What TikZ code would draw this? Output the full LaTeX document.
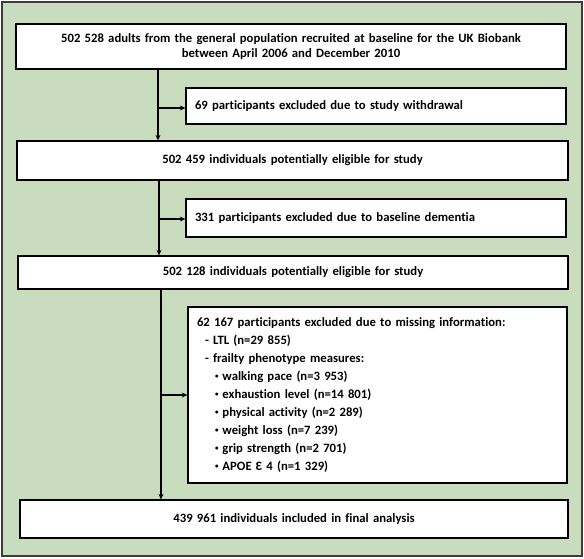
\documentclass[tikz,border=0pt]{standalone}
\usepackage{fontspec}
\setmainfont{Carlito}[Ligatures={NoCommon,TeX}]
\usetikzlibrary{arrows.meta}
\definecolor{bggreen}{RGB}{201,220,190}
\definecolor{framegray}{RGB}{60,60,60}
\newcommand{\mybul}{\hspace*{18pt}\raisebox{0.25ex}{\scriptsize\textbullet}\hspace{4pt}}
\begin{document}
\begin{tikzpicture}[x=1pt,y=-1pt,
  boxstyle/.style={draw=black, line width=1.3pt, fill=white, inner sep=0pt, font=\bfseries\fontsize{12.7}{15.5}\selectfont},
  cbox/.style={boxstyle, align=center},
  lbox/.style={boxstyle, align=left},
  arr/.style={line width=1.4pt, -{Stealth[length=5.5pt,width=5pt]}}]
\useasboundingbox (0,0) rectangle (584,558);
\draw[framegray, fill=bggreen, line width=1.5pt] (2,2) rectangle (582,556);
% main boxes
\node[cbox, minimum width=550pt, minimum height=45pt, text width=540pt] (b1) at (291,46.5)
  {502 528 adults from the general population recruited at baseline for the UK Biobank\\between April 2006 and December 2010};
\node[cbox, minimum width=551pt, minimum height=39pt, text width=540pt] (b2) at (292.5,160.5)
  {502 459 individuals potentially eligible for study};
\node[cbox, minimum width=550pt, minimum height=33pt, text width=540pt] (b3) at (293,272.5)
  {502 128 individuals potentially eligible for study};
\node[cbox, minimum width=548pt, minimum height=38pt, text width=540pt] (b5) at (294,519)
  {439 961 individuals included in final analysis};
% exclusion boxes
\node[lbox, minimum width=380pt, minimum height=36pt, text width=362pt] (e1) at (376,106)
  {69 participants excluded due to study withdrawal};
\node[lbox, minimum width=380pt, minimum height=38pt, text width=362pt] (e2) at (376,218)
  {331 participants excluded due to baseline dementia};
\node[lbox, minimum width=379pt, minimum height=176pt, text width=361pt,
  font=\bfseries\fontsize{12.7}{18}\selectfont] (e3) at (377.5,395)
  {62 167 participants excluded due to missing information:\\
   \hspace*{8pt}- LTL (n=29 855)\\
   \hspace*{8pt}- frailty phenotype measures:\\
   \mybul walking pace (n=3 953)\\
   \mybul exhaustion level (n=14 801)\\
   \mybul physical activity (n=2 289)\\
   \mybul weight loss (n=7 239)\\
   \mybul grip strength (n=2 701)\\
   \mybul APOE Ɛ 4 (n=1 329)};
% connectors
\coordinate (t1) at (158,69);
\coordinate (t2) at (159,180);
\coordinate (t3) at (161,289);
\draw[arr] (t1) -- (t1 |- b2.north);
\draw[arr] (t2) -- (t2 |- b3.north);
\draw[arr] (t3) -- (t3 |- b5.north);
\coordinate (s1) at (158,108);
\coordinate (s2) at (159,219);
\coordinate (s3) at (161,395);
\draw[arr] (s1) -- (s1 -| e1.west);
\draw[arr] (s2) -- (s2 -| e2.west);
\draw[arr] (s3) -- (s3 -| e3.west);
\end{tikzpicture}
\end{document}
